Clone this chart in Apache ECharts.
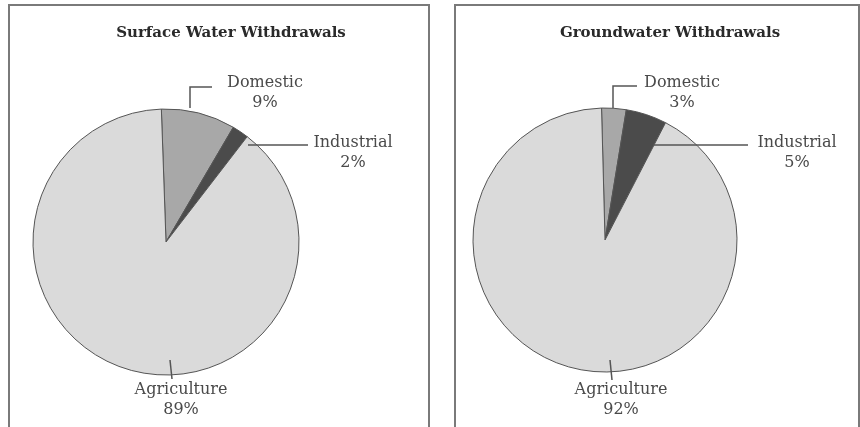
<!DOCTYPE html>
<html>
<head>
<meta charset="utf-8">
<style>
  html, body { margin: 0; padding: 0; background: #fff; }
  #chart { width: 860px; height: 427px; }
</style>
<script src="https://cdn.jsdelivr.net/npm/echarts@6/dist/echarts.min.js"></script>
</head>
<body>
<div id="chart"></div>
<script>
// Water withdrawals by sector, in percent
const sectors = ['Domestic', 'Industrial', 'Agriculture'];
const surfaceValues = [9, 2, 89];
const groundValues = [3, 5, 92];
const titles = ['Surface Water Withdrawals', 'Groundwater Withdrawals'];

const sliceColors = ['#a8a8a8', '#4b4b4b', '#dadada'];
const labelFont = '"DejaVu Serif", "Liberation Serif", serif';

// Panel geometry: pie centre, radius, start angle, and label / leader offsets
// (offsets are relative to the pie centre)
const panels = [
  {
    box: [9, 5, 420, 440], center: [166, 242], r: 133, start: 92,
    leaders: [
      { label: [99, -169], pts: [[24, -134], [24, -155], [46, -155]] },
      { label: [187, -109], pts: [[82, -97], [142, -97]] },
      { label: [15, 138], pts: [[4, 118], [6, 137]] }
    ]
  },
  {
    box: [455, 5, 404, 440], center: [605, 240], r: 132, start: 91.5,
    leaders: [
      { label: [77, -167], pts: [[8, -132], [8, -154], [32, -154]] },
      { label: [192, -107], pts: [[48, -95], [143, -95]] },
      { label: [16, 140], pts: [[5, 120], [7, 140]] }
    ]
  }
];

function pieData(values, withColor) {
  return sectors.map((name, i) => ({
    name: name,
    value: values[i],
    itemStyle: withColor ? { color: sliceColors[i] } : { color: 'rgba(0,0,0,0)' }
  }));
}

// Filled slices
function sliceSeries(values, idx) {
  const p = panels[idx];
  return {
    type: 'pie',
    z: 2,
    center: p.center,
    radius: p.r,
    startAngle: p.start,
    clockwise: true,
    animation: false,
    silent: true,
    data: pieData(values, true),
    itemStyle: { borderColor: '#555', borderWidth: 1 },
    label: { show: false },
    labelLine: { show: false }
  };
}

// Transparent copy on top carrying the labels so leaders overlap the slices
function labelSeries(values, idx) {
  const p = panels[idx];
  return {
    type: 'pie',
    z: 5,
    center: p.center,
    radius: p.r,
    startAngle: p.start,
    clockwise: true,
    animation: false,
    silent: true,
    data: pieData(values, false),
    itemStyle: { borderWidth: 0 },
    label: {
      show: true,
      position: 'outside',
      formatter: '{b}\n{c}%',
      fontFamily: labelFont,
      fontSize: 16,
      lineHeight: 20,
      color: '#4a4a4a',
      align: 'center'
    },
    labelLine: {
      show: true,
      length: 10,
      length2: 10,
      smooth: false,
      lineStyle: { color: '#555', width: 1.5 }
    },
    labelLayout: function (params) {
      const lead = p.leaders[params.dataIndex];
      const cx = p.center[0], cy = p.center[1];
      return {
        x: cx + lead.label[0],
        y: cy + lead.label[1],
        align: 'center',
        verticalAlign: 'top',
        labelLinePoints: lead.pts.map(q => [cx + q[0], cy + q[1]])
      };
    }
  };
}

const chart = echarts.init(document.getElementById('chart'), null, { renderer: 'canvas' });

const graphics = panels.map(p => ({
  type: 'rect',
  shape: { x: p.box[0], y: p.box[1], width: p.box[2], height: p.box[3] },
  style: { fill: 'none', stroke: '#7a7a7a', lineWidth: 2 },
  silent: true
}));

const titleStyle = { fontFamily: labelFont, fontWeight: 'bold', fontSize: 15, color: '#2a2a2a' };

chart.setOption({
  backgroundColor: '#ffffff',
  animation: false,
  title: [
    { text: titles[0], left: 226, top: 21, textAlign: 'center', textStyle: titleStyle },
    { text: titles[1], left: 665, top: 21, textAlign: 'center', textStyle: titleStyle }
  ],
  graphic: graphics,
  series: [
    sliceSeries(surfaceValues, 0),
    sliceSeries(groundValues, 1),
    labelSeries(surfaceValues, 0),
    labelSeries(groundValues, 1)
  ]
});
</script>
</body>
</html>
